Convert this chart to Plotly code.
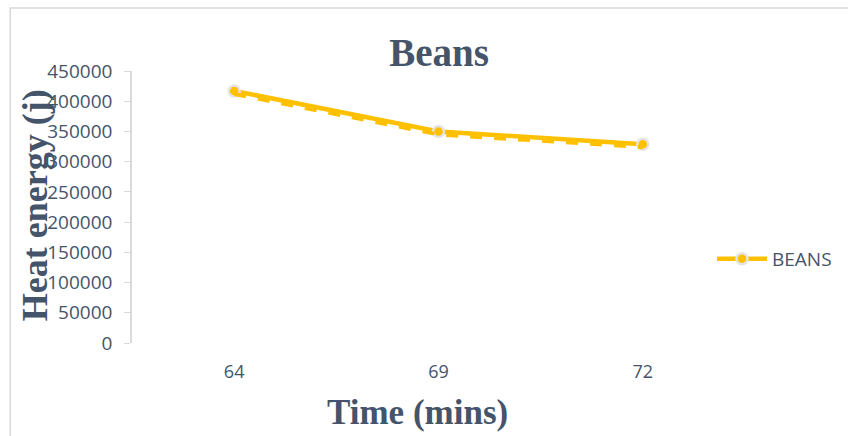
import plotly.graph_objects as go

# Heat energy released by beans over cooking time
times = ["64", "69", "72"]
heat_energy = [417000, 350000, 329000]
y_ticks = [0, 50000, 100000, 150000, 200000, 250000, 300000, 350000, 400000, 450000]

W, H = 848, 436
L, R, T, B = 132, 102, 71, 93
plot_h = H - T - B
y_max = 450000

gold = "#FFC000"
slate = "#44546A"

fig = go.Figure()

# soft dashed under-stroke, drawn on a twin axis nudged a few pixels down
nudge = 3 / plot_h * y_max
fig.add_trace(go.Scatter(
    x=times, y=heat_energy, yaxis="y2", mode="lines",
    line=dict(color=gold, width=4, dash="dash"),
    showlegend=False, hoverinfo="skip",
))

fig.add_trace(go.Scatter(
    x=times, y=heat_energy, mode="lines+markers", name="BEANS",
    line=dict(color=gold, width=4.5),
    marker=dict(size=11, color=gold, line=dict(color="#E4E4E4", width=2.5)),
))

fig.update_layout(
    width=W, height=H,
    margin=dict(l=L, r=R, t=T, b=B),
    paper_bgcolor="white", plot_bgcolor="white",
    title=dict(
        text="<b>Beans</b>", x=(L + (W - L - R) / 2) / W, xanchor="center",
        y=1 - 52 / H, yanchor="middle",
        font=dict(family="Liberation Serif", size=39, color=slate),
    ),
    xaxis=dict(
        type="category", range=[-0.5, 2.5],
        showline=False, showgrid=False, zeroline=False, ticks="",
        tickfont=dict(family="Open Sans", size=18, color=slate),
        ticklabelstandoff=16,
    ),
    yaxis=dict(
        range=[0, y_max], tickvals=y_ticks,
        ticktext=[str(v) for v in y_ticks],
        showline=True, linecolor="#D9D9D9", linewidth=1.5,
        ticks="outside", ticklen=6, tickcolor="#D9D9D9",
        showgrid=False, zeroline=False,
        tickfont=dict(family="Open Sans", size=19, color=slate),
        ticklabelstandoff=8,
    ),
    yaxis2=dict(
        range=[nudge, y_max + nudge], overlaying="y",
        visible=False, showgrid=False, zeroline=False,
    ),
    legend=dict(
        x=(712 - L) / (W - L - R), y=(H - B - 259) / plot_h,
        xanchor="left", yanchor="middle",
        font=dict(family="Open Sans", size=19, color=slate),
        itemwidth=50, bgcolor="rgba(0,0,0,0)",
    ),
    showlegend=True,
)

pw = W - L - R
# y axis title, overlapping the tick labels
fig.add_annotation(
    text="<b>Heat energy (j)</b>", textangle=-90,
    x=(35 - L) / pw, y=(H - B - 205) / plot_h, xref="paper", yref="paper",
    showarrow=False, xanchor="center", yanchor="middle",
    font=dict(family="Liberation Serif", size=36, color=slate),
)
# x axis title
fig.add_annotation(
    text="<b>Time (mins)</b>",
    x=(418 - L) / pw, y=(H - B - 412) / plot_h, xref="paper", yref="paper",
    showarrow=False, xanchor="center", yanchor="middle",
    font=dict(family="Liberation Serif", size=35, color=slate),
)
# outer chart frame
fig.add_shape(
    type="rect", xref="paper", yref="paper",
    x0=(10 - L) / pw, x1=(W + 5 - L) / pw,
    y0=(H - B - (H + 5)) / plot_h, y1=(H - B - 8) / plot_h,
    line=dict(color="#D9D9D9", width=1.5), fillcolor="rgba(0,0,0,0)",
    layer="below",
)

fig.write_html("out.html")
